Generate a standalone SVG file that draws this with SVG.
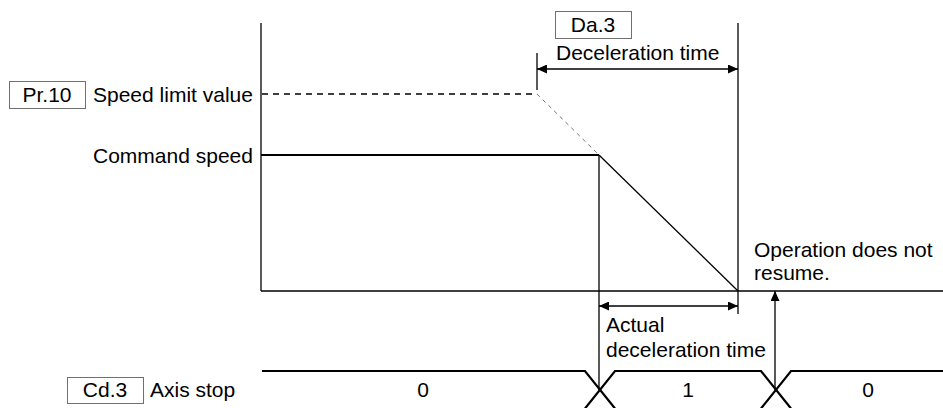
<svg xmlns="http://www.w3.org/2000/svg" width="943" height="408" viewBox="0 0 943 408">
<defs>
<marker id="ah" viewBox="0 0 10 9" refX="10" refY="4.5" markerWidth="10" markerHeight="9" markerUnits="userSpaceOnUse" orient="auto-start-reverse">
<path d="M0,0 L10,4.5 L0,9 Z" fill="#000"/>
</marker>
<style>
text{font-family:"Liberation Sans",Arial,sans-serif;font-size:21px;fill:#000}
.mid{text-anchor:middle}
.box{fill:#fff;stroke:#707070;stroke-width:1}
.ln{stroke:#000;stroke-width:1.3;fill:none}
.thick{stroke:#000;stroke-width:2.2;fill:none}
.dash{stroke:#000;stroke-width:1.3;stroke-dasharray:6 5;fill:none}
.gdash{stroke:#777;stroke-width:1;stroke-dasharray:4 4;fill:none}
</style>
</defs>
<g id="connectors">
<line class="ln" x1="261" y1="23" x2="261" y2="291"/>
<line class="ln" x1="261" y1="291" x2="943" y2="291"/>
<line class="ln" x1="738" y1="23" x2="738" y2="314"/>
<line class="ln" x1="537" y1="53" x2="537" y2="90"/>
<line class="dash" x1="262" y1="94" x2="537" y2="94"/>
<line class="gdash" x1="537" y1="94" x2="599" y2="155"/>
<line class="thick" x1="261" y1="155" x2="599" y2="155"/>
<line class="ln" x1="599" y1="155" x2="738" y2="291"/>
<line class="ln" x1="599" y1="155" x2="599" y2="390"/>
<line class="ln" x1="537" y1="69" x2="738" y2="69" marker-start="url(#ah)" marker-end="url(#ah)"/>
<line class="ln" x1="599" y1="306" x2="738" y2="306" marker-start="url(#ah)" marker-end="url(#ah)"/>
<line class="ln" x1="775" y1="390" x2="775" y2="291" marker-end="url(#ah)"/>
<polyline class="thick" points="262,371 585,371 615,408.5"/>
<polyline class="thick" points="585,408.5 615,371 761,371 791,408.5"/>
<polyline class="thick" points="761,408.5 791,371 943,371"/>
</g>
<g id="pr10">
<rect class="box" x="9.5" y="81.5" width="76" height="27"/>
<text class="mid" x="47" y="102">Pr.10</text>
<text x="93" y="102">Speed limit value</text>
</g>
<g id="command-speed">
<text x="93" y="163">Command speed</text>
</g>
<g id="da3">
<rect class="box" x="555.5" y="11.5" width="76" height="27"/>
<text class="mid" x="593" y="32">Da.3</text>
<text x="556" y="60">Deceleration time</text>
</g>
<g id="operation">
<text x="754" y="257">Operation does not</text>
<text x="754" y="280">resume.</text>
</g>
<g id="actual">
<text x="606" y="332">Actual</text>
<text x="606" y="357">deceleration time</text>
</g>
<g id="cd3">
<rect class="box" x="67.5" y="377.5" width="76" height="26"/>
<text class="mid" x="105" y="397">Cd.3</text>
<text x="150" y="397">Axis stop</text>
</g>
<g id="signal-values">
<text class="mid" x="423" y="397">0</text>
<text class="mid" x="688" y="397">1</text>
<text class="mid" x="868" y="397">0</text>
</g>
</svg>
